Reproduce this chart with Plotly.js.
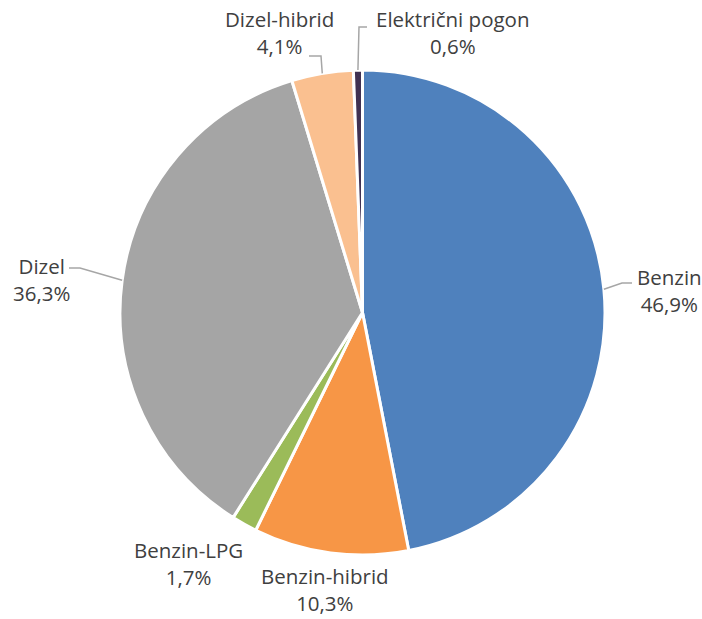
<!DOCTYPE html>
<html>
<head>
<meta charset="utf-8">
<script src="https://cdn.plot.ly/plotly-3.0.1.min.js"></script>
<style>html,body{margin:0;padding:0;background:#fff;}#chart{width:702px;height:619px;}</style>
</head>
<body>
<div id="chart"></div>
<script>
// ---- data ----
var categories = ["Benzin", "Benzin-hibrid", "Benzin-LPG", "Dizel", "Dizel-hibrid", "Električni pogon"];
var shares = [46.9, 10.3, 1.7, 36.3, 4.1, 0.6];
var colors = ["#4F81BD", "#F79646", "#9BBB59", "#A5A5A5", "#FAC090", "#403152"];

// ---- layout config (pixels in 702x619 canvas) ----
var W = 702, H = 619;
var cx = 362.5, cy = 312.5, R = 242.5;
var labelPos = [[669, 291], [325, 589], [188, 563], [41, 279], [279, 32], [453, 32]];
// leader lines: [elbow, end] or null
var leaders = [[[622, 283], [632, 283]], null, null, [[80, 268], [69, 268]], [[321, 56], [309, 56]], [[359, 27], [367, 27]]];

function px(x) { return x / W; }
function py(y) { return 1 - y / H; }

var total = shares.reduce(function (a, b) { return a + b; }, 0);
var annotations = [], shapes = [];
var cum = 0;
shares.forEach(function (v, i) {
  var mid = (cum + v / 2) / total * 2 * Math.PI;
  cum += v;
  var ex = cx + Math.sin(mid) * R, ey = cy - Math.cos(mid) * R;
  annotations.push({
    xref: "paper", yref: "paper",
    x: px(labelPos[i][0]), y: py(labelPos[i][1]),
    xanchor: "center", yanchor: "middle",
    text: categories[i] + "<br>" + v.toFixed(1).replace(".", ",") + "%",
    showarrow: false, align: "center", borderpad: 0,
    font: { family: "'Open Sans', 'Noto Sans', sans-serif", size: 20.5, color: "#404040" }
  });
  if (leaders[i]) {
    var p = leaders[i];
    shapes.push({
      type: "path", xref: "paper", yref: "paper",
      path: "M" + px(ex) + "," + py(ey) + " L" + px(p[0][0]) + "," + py(p[0][1]) + " L" + px(p[1][0]) + "," + py(p[1][1]),
      line: { color: "#A6A6A6", width: 1.5 }
    });
  }
});

var trace = {
  type: "pie",
  labels: categories,
  values: shares,
  sort: false,
  direction: "clockwise",
  rotation: 0,
  textinfo: "none",
  hoverinfo: "label+percent",
  marker: { colors: colors, line: { color: "#FFFFFF", width: 3 } },
  domain: { x: [px(cx - R), px(cx + R)], y: [py(cy + R), py(cy - R)] },
  showlegend: false
};

var layout = {
  width: W, height: H,
  margin: { l: 0, r: 0, t: 0, b: 0 },
  paper_bgcolor: "#FFFFFF",
  showlegend: false,
  annotations: annotations,
  shapes: shapes
};

Plotly.newPlot("chart", [trace], layout, { displayModeBar: false, staticPlot: true });
</script>
</body>
</html>
